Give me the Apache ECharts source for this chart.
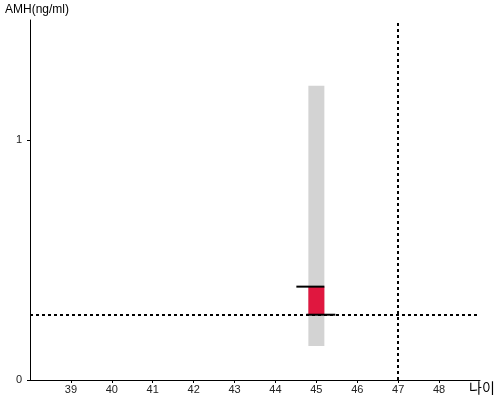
<!DOCTYPE html>
<html><head><meta charset="utf-8">
<script src="https://cdn.jsdelivr.net/npm/echarts@6/dist/echarts.min.js"></script>
<style>html,body{margin:0;padding:0;background:#fff}#c{width:500px;height:400px}</style>
</head><body><div id="c"></div>
<script>
var xTicks = [39, 40, 41, 42, 43, 44, 45, 46, 47, 48];
var yTicks = [0, 1];
var rangeAge = [45];
var rangeLow = [0.142];
var rangeHigh = [1.226];
var valueLow = [0.272];
var valueHigh = [0.389];
var refAge = [47];
var refValue = [0.272];

var chart = echarts.init(document.getElementById('c'), null, {renderer: 'canvas'});
var font = 'Arial, "Liberation Sans", sans-serif';

var rangeData = rangeAge.map(function (a, i) { return [a, rangeLow[i], rangeHigh[i]]; });
var valueData = rangeAge.map(function (a, i) { return [a, valueLow[i], valueHigh[i]]; });

chart.setOption({
  animation: false,
  grid: {left: 30, right: 20, top: 20, bottom: 20, containLabel: false, outerBoundsMode: 'none'},
  xAxis: {
    type: 'value', min: 38, max: 49, interval: 1,
    name: '나이', nameLocation: 'end', nameGap: 2,
    nameTextStyle: {fontFamily: '"Noto Sans CJK KR", sans-serif', fontSize: 14, color: '#000', align: 'center', verticalAlign: 'top', padding: [1, 0, 0, 0]},
    axisLine: {lineStyle: {color: '#000', width: 1}},
    axisTick: {show: true, length: 3, customValues: xTicks, lineStyle: {color: '#000'}},
    splitLine: {show: false},
    axisLabel: {customValues: xTicks, color: '#222', fontFamily: font, fontSize: 11, margin: 4}
  },
  yAxis: {
    type: 'value', min: 0, max: 1.5, interval: 0.5,
    name: 'AMH(ng/ml)', nameLocation: 'end', nameGap: 4,
    nameTextStyle: {fontFamily: font, fontSize: 12, color: '#000', align: 'left', padding: [0, 0, 0, -25]},
    axisLine: {show: true, lineStyle: {color: '#000', width: 1}},
    axisTick: {show: true, length: 3, customValues: yTicks, lineStyle: {color: '#000'}},
    splitLine: {show: false},
    axisLabel: {customValues: yTicks, color: '#222', fontFamily: font, fontSize: 11, margin: 8}
  },
  series: [
    {
      type: 'custom', data: rangeData, z: 2,
      renderItem: function (params, api) {
        var top = api.coord([api.value(0), api.value(2)]);
        var bot = api.coord([api.value(0), api.value(1)]);
        return {type: 'rect', shape: {x: top[0] - 8, y: top[1], width: 16, height: bot[1] - top[1]}, style: {fill: '#d3d3d3'}};
      }
    },
    {
      type: 'custom', data: valueData, z: 3,
      renderItem: function (params, api) {
        var top = api.coord([api.value(0), api.value(2)]);
        var bot = api.coord([api.value(0), api.value(1)]);
        return {type: 'group', children: [
          {type: 'rect', shape: {x: top[0] - 8, y: top[1], width: 16, height: bot[1] - top[1]}, style: {fill: '#e0173f'}},
          {type: 'line', shape: {x1: top[0] - 20, y1: top[1], x2: top[0] + 8, y2: top[1]}, style: {stroke: '#000', lineWidth: 2}},
          {type: 'line', shape: {x1: bot[0] - 10, y1: bot[1], x2: bot[0] + 19, y2: bot[1]}, style: {stroke: '#000', lineWidth: 2}}
        ]};
      }
    },
    {
      type: 'line', data: [], z: 4,
      markLine: {
        silent: true, symbol: 'none', label: {show: false},
        lineStyle: {color: '#000', type: [3, 3], width: 2},
        data: [{xAxis: refAge[0]}, {yAxis: refValue[0]}]
      }
    }
  ]
});
</script></body></html>
